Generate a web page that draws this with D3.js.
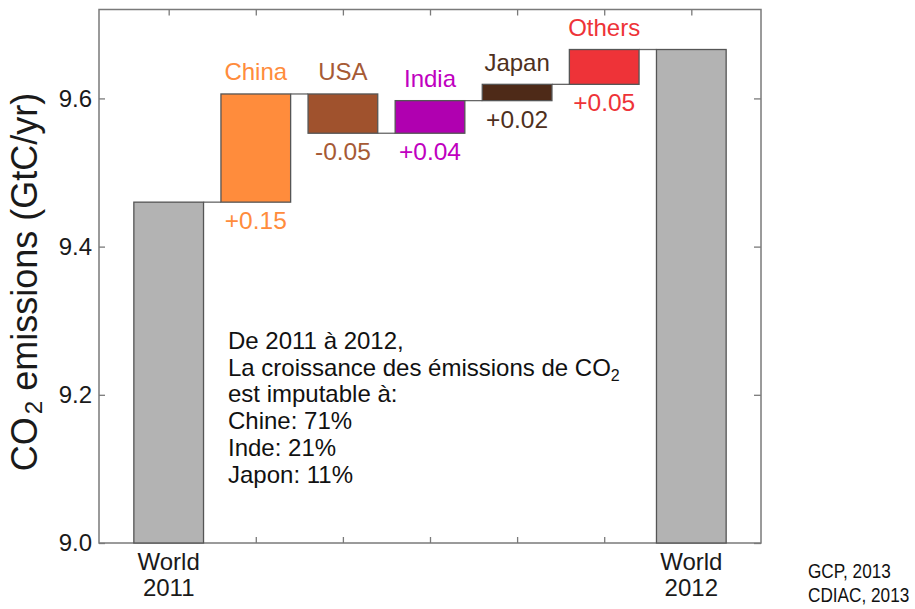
<!DOCTYPE html>
<html>
<head>
<meta charset="utf-8">
<script src="https://cdn.jsdelivr.net/npm/d3@7"></script>
<style>
  body { margin: 0; background: #fff; }
  svg { font-family: "Liberation Sans", Arial, sans-serif; }
</style>
</head>
<body>
<div id="chart"></div>
<script>
/* waterfall chart: world CO2 emissions 2011 -> 2012 */

// Data
var world2011 = 9.46;
var countries = ["China", "USA", "India", "Japan", "Others"];
var changes = [0.146, -0.053, 0.044, 0.022, 0.047];
var changeLabels = ["+0.15", "-0.05", "+0.04", "+0.02", "+0.05"];
var worldLabels = [["World", "2011"], ["World", "2012"]];
var yTicks = [9.0, 9.2, 9.4, 9.6];
var noteLines = ["De 2011 à 2012,", "La croissance des émissions de CO", "est imputable à:",
                 "Chine: 71%", "Inde: 21%", "Japon: 11%"];
var sources = ["GCP, 2013", "CDIAC, 2013"];

var colors = ["#ff8c3c", "#a0522d", "#b000b0", "#4e2a18", "#ee3338"];
var textColors = ["#ff8c3c", "#a65a35", "#c000c0", "#4e3020", "#ee3338"];

(function() {
  // Build bars (start / end for each step)
  var bars = [];
  var level = world2011;
  bars.push({pos: 1, y0: 9.0, y1: world2011, fill: "#b3b3b3"});
  for (var i = 0; i < countries.length; i++) {
    bars.push({pos: i + 2, y0: level, y1: level + changes[i], fill: colors[i],
               name: countries[i], label: changeLabels[i], color: textColors[i]});
    level = level + changes[i];
  }
  bars.push({pos: 7, y0: 9.0, y1: level, fill: "#b3b3b3"});

  var svg = d3.select("#chart").append("svg")
              .attr("width", 915)
              .attr("height", 609);

  var pLeft = 99, pRight = 761, pTop = 9.5, pBottom = 543;

  var x = d3.scaleLinear().domain([0.2, 7.8]).range([pLeft, pRight]);
  var y = d3.scaleLinear().domain([9.0, 9.72]).range([pBottom, pTop]);
  var bw = x(0.8) - x(0);

  // Axes (ticks inward)
  var axisColor = "#7a7a7a";

  var gLeft = svg.append("g").attr("transform", "translate(" + pLeft + ",0)")
    .call(d3.axisLeft(y).tickValues(yTicks).tickFormat(d3.format(".1f"))
          .tickSizeInner(-6).tickSizeOuter(0).tickPadding(7));
  var gRight = svg.append("g").attr("transform", "translate(" + pRight + ",0)")
    .call(d3.axisRight(y).tickValues(yTicks).tickFormat("")
          .tickSizeInner(-7).tickSizeOuter(0));
  var gBottom = svg.append("g").attr("transform", "translate(0," + pBottom + ")")
    .call(d3.axisBottom(x).tickValues([1, 2, 3, 4, 5, 6, 7]).tickFormat("")
          .tickSizeInner(-6).tickSizeOuter(0));
  var gTop = svg.append("g").attr("transform", "translate(0," + pTop + ")")
    .call(d3.axisTop(x).tickValues([1, 2, 3, 4, 5, 6, 7]).tickFormat("")
          .tickSizeInner(-6).tickSizeOuter(0));

  [gLeft, gRight, gBottom, gTop].forEach(function(g) {
    g.select(".domain").remove();
    g.selectAll(".tick line").attr("stroke", axisColor).attr("stroke-width", 1.3);
  });
  gLeft.selectAll(".tick text")
    .attr("font-size", 24)
    .attr("fill", "#1a1a1a")
    .attr("font-family", "\"Liberation Sans\", Arial, sans-serif");

  // Frame
  svg.append("rect")
    .attr("x", pLeft).attr("y", pTop)
    .attr("width", pRight - pLeft).attr("height", pBottom - pTop)
    .attr("fill", "none")
    .attr("stroke", axisColor)
    .attr("stroke-width", 1.5);

  // Connectors
  var conn = [];
  for (var j = 0; j < bars.length - 1; j++) {
    conn.push({x1: bars[j].pos + 0.4, x2: bars[j + 1].pos - 0.4, v: bars[j].y1});
  }
  svg.selectAll("line.conn")
    .data(conn)
    .enter()
    .append("line")
    .attr("class", "conn")
    .attr("x1", function(d) { return x(d.x1); })
    .attr("x2", function(d) { return x(d.x2); })
    .attr("y1", function(d) { return y(d.v); })
    .attr("y2", function(d) { return y(d.v); })
    .attr("stroke", "#666")
    .attr("stroke-width", 1.3);

  // Bars
  svg.selectAll("rect.bar")
    .data(bars)
    .enter()
    .append("rect")
    .attr("class", "bar")
    .attr("x", function(d) { return x(d.pos - 0.4); })
    .attr("width", bw)
    .attr("y", function(d) { return y(Math.max(d.y0, d.y1)); })
    .attr("height", function(d) { return Math.abs(y(d.y0) - y(d.y1)); })
    .attr("fill", function(d) { return d.fill; })
    .attr("stroke", "#555")
    .attr("stroke-width", 1.3);

  // Names above, changes below
  var steps = bars.filter(function(d) { return d.name; });
  svg.selectAll("text.name")
    .data(steps)
    .enter()
    .append("text")
    .attr("class", "name")
    .attr("x", function(d) { return x(d.pos); })
    .attr("y", function(d) { return y(Math.max(d.y0, d.y1)) - 13.5; })
    .attr("text-anchor", "middle")
    .attr("font-size", 24)
    .attr("fill", function(d) { return d.color; })
    .text(function(d) { return d.name; });

  svg.selectAll("text.change")
    .data(steps)
    .enter()
    .append("text")
    .attr("class", "change")
    .attr("x", function(d) { return x(d.pos); })
    .attr("y", function(d) { return y(Math.min(d.y0, d.y1)) + 27; })
    .attr("text-anchor", "middle")
    .attr("font-size", 24.5)
    .attr("fill", function(d) { return d.color; })
    .text(function(d) { return d.label; });

  // World labels under the axis
  [1, 7].forEach(function(p, k) {
    var t = svg.append("text")
      .attr("x", x(p))
      .attr("y", 570)
      .attr("text-anchor", "middle")
      .attr("font-size", 24)
      .attr("fill", "#1a1a1a");
    t.append("tspan").attr("x", x(p)).text(worldLabels[k][0]);
    t.append("tspan").attr("x", x(p)).attr("dy", 26).text(worldLabels[k][1]);
  });

  // Y axis title
  var yt = svg.append("text")
    .attr("transform", "translate(37," + 282 + ") rotate(-90)")
    .attr("text-anchor", "middle")
    .attr("font-size", 36)
    .attr("fill", "#1a1a1a");
  yt.append("tspan").text("CO");
  yt.append("tspan").attr("font-size", 24).attr("dy", 5).attr("dx", 3).text("2");
  yt.append("tspan").attr("dy", -5).text(" emissions (GtC/yr)");

  // Note
  var note = svg.append("text")
    .attr("x", 228)
    .attr("y", 349)
    .attr("font-size", 24)
    .attr("fill", "#111");
  noteLines.forEach(function(line, k) {
    note.append("tspan").attr("x", 228).attr("dy", k === 0 ? 0 : (k === 2 ? 21.7 : 26.7)).text(line);
    if (k === 1) {
      note.append("tspan").attr("font-size", 16).attr("dy", 5).text("2");
    }
  });

  // Sources (narrow text, squeezed horizontally)
  svg.selectAll("text.source")
    .data(sources)
    .enter()
    .append("text")
    .attr("class", "source")
    .attr("transform", function(d, i) {
      return "translate(808," + (578 + i * 24) + ") scale(0.86,1)";
    })
    .attr("font-size", 20)
    .attr("fill", "#111")
    .text(function(d) { return d; });
})();
</script>
</body>
</html>
